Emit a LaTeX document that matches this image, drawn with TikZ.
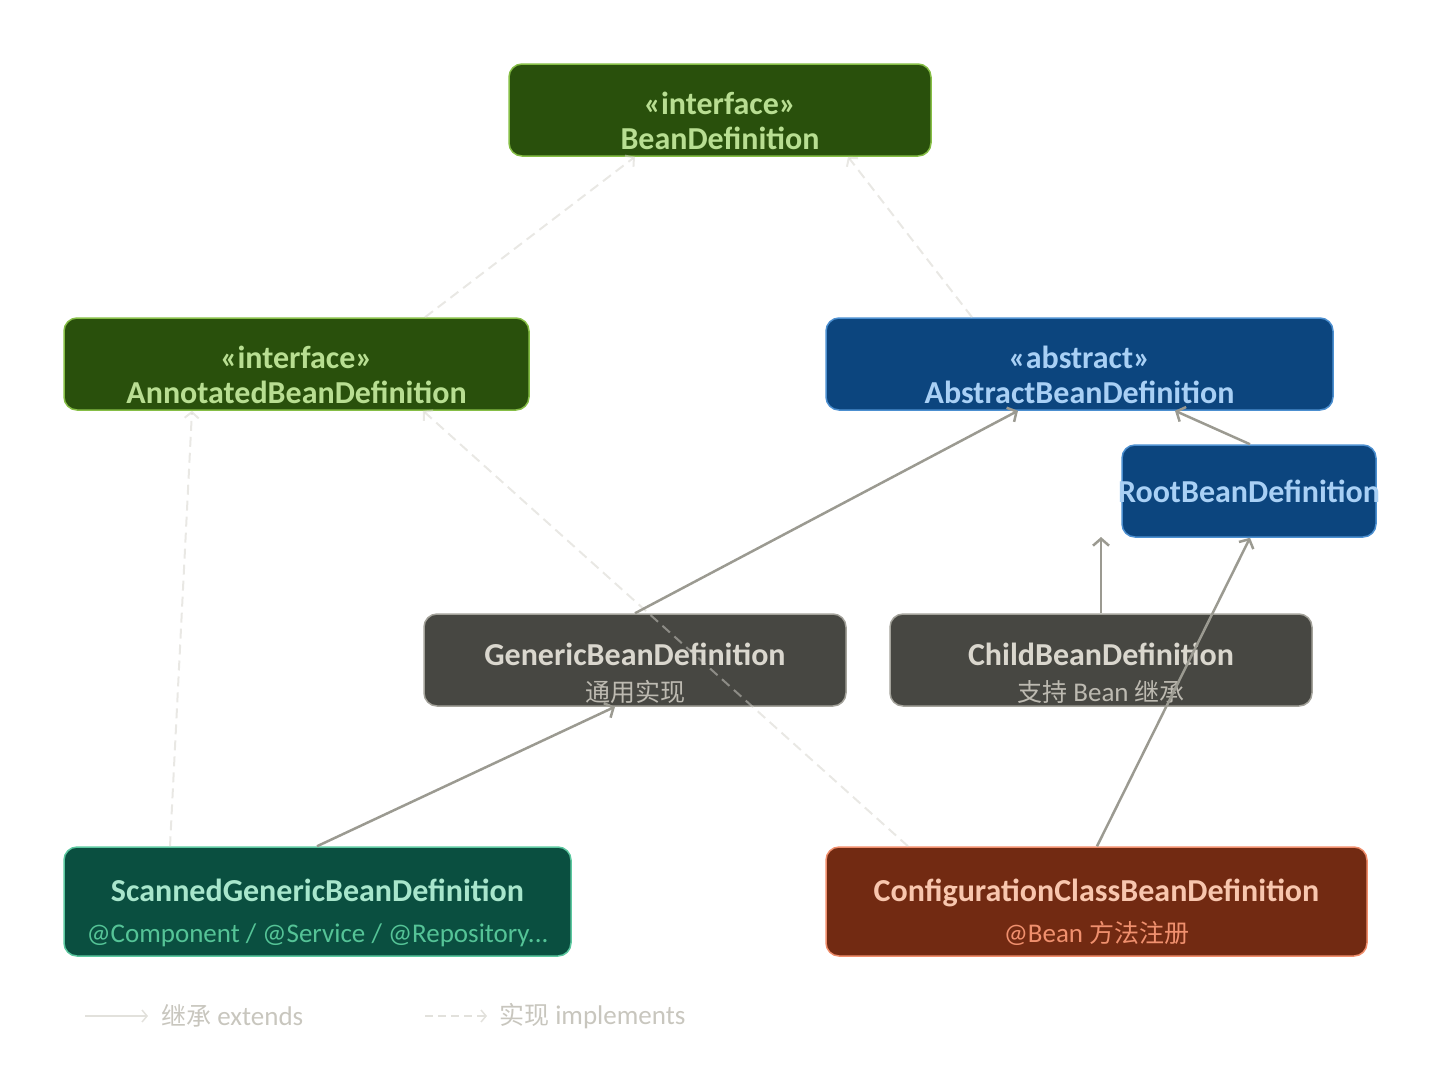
\documentclass[tikz,border=0pt]{standalone}
\usepackage{fontspec}
\setmainfont{Carlito}
\newfontfamily\cjk{Noto Sans CJK SC}
\usetikzlibrary{arrows.meta,positioning}
\definecolor{grfill}{HTML}{29500C}
\definecolor{grline}{HTML}{86BE46}
\definecolor{grtext}{HTML}{B8DE92}
\definecolor{blfill}{HTML}{0C457E}
\definecolor{blline}{HTML}{4C8FD0}
\definecolor{bltext}{HTML}{A9D0F5}
\definecolor{gyfill}{HTML}{474742}
\definecolor{gyline}{HTML}{A4A39B}
\definecolor{gytext}{HTML}{DAD7CE}
\definecolor{gysub}{HTML}{BDBAB1}
\definecolor{tlfill}{HTML}{0A4F40}
\definecolor{tlline}{HTML}{5CC8A0}
\definecolor{tltext}{HTML}{A8E6CC}
\definecolor{tlsub}{HTML}{55C497}
\definecolor{brfill}{HTML}{722A12}
\definecolor{brline}{HTML}{F08E6C}
\definecolor{brtext}{HTML}{F8C6AE}
\definecolor{brsub}{HTML}{F0906E}
\definecolor{extline}{HTML}{9B9A91}
\definecolor{impline}{HTML}{D3D1CA}
\definecolor{legline}{HTML}{E2E1DC}
\definecolor{legtext}{HTML}{C8C6BE}
\newcommand{\tfont}{\bfseries\fontsize{32}{34}\selectfont}
\newcommand{\sfont}{\mdseries\fontsize{27}{30}\selectfont}
\newcommand{\cfont}{\mdseries\fontsize{25}{30}\selectfont\cjk}
\tikzset{
  box/.style={rounded corners=13pt, line width=1.5pt, inner sep=0pt},
  green/.style={box, fill=grfill, draw=grline},
  blue/.style={box, fill=blfill, draw=blline},
  gray/.style={box, fill=gyfill, draw=gyline},
  teal/.style={box, fill=tlfill, draw=tlline},
  brown/.style={box, fill=brfill, draw=brline},
  lbl/.style={inner sep=0pt, align=center, font=\tfont},
  extends/.style={draw=extline, line width=2.5pt, -{Straight Barb[length=7pt,width=16pt]}},
  implements/.style={draw=impline, draw opacity=0.5, line width=2pt, dash pattern=on 10pt off 6pt, -{Straight Barb[length=6pt,width=14pt]}},
  legtxt/.style={anchor=west, inner sep=0pt, text=legtext, font=\sfont},
}
\begin{document}
\begin{tikzpicture}[x=1pt,y=-1pt]
\useasboundingbox (0,0) rectangle (1440,1066);
% boxes
\node[green, minimum width=422pt, minimum height=92pt] (bean) at (720,110) {};
\node[green, minimum width=465pt, minimum height=92pt] (ann) at (296.5,364) {};
\node[blue, minimum width=507pt, minimum height=92pt] (abs) at (1079.5,364) {};
\node[blue, minimum width=254pt, minimum height=92pt] (root) at (1249,491) {};
\node[gray, minimum width=422pt, minimum height=92pt] (gen) at (635,660) {};
\node[gray, minimum width=422pt, minimum height=92pt] (child) at (1101,660) {};
\node[teal, minimum width=507pt, minimum height=109pt] (scan) at (317.5,901.5) {};
\node[brown, minimum width=541pt, minimum height=109pt] (conf) at (1096.5,901.5) {};
% labels
\node[lbl, text=grtext] (beanlbl) at ([yshift=-11pt]bean.center) {«interface»\\[1pt]BeanDefinition};
\node[lbl, text=grtext] (annlbl) at ([yshift=-11pt]ann.center) {«interface»\\[1pt]AnnotatedBeanDefinition};
\node[lbl, text=bltext] (abslbl) at ([yshift=-11pt]abs.center) {«abstract»\\[1pt]AbstractBeanDefinition};
\node[lbl, text=bltext] (rootlbl) at (root.center) {RootBeanDefinition};
\node[lbl, text=gytext] (genlbl) at ([yshift=-13pt]gen.center) {GenericBeanDefinition\\[2pt]{\color{gysub}\cfont 通用实现}};
\node[lbl, text=gytext] (childlbl) at ([yshift=-13pt]child.center) {ChildBeanDefinition\\[2pt]{\color{gysub}\sfont{\cfont 支持} Bean {\cfont 继承}}};
\node[lbl, text=tltext] (scanlbl) at ([yshift=-11pt]scan.center) {ScannedGenericBeanDefinition\\[7pt]{\color{tlsub}\sfont @Component / @Service / @Repository...}};
\node[lbl, text=brtext] (conflbl) at ([yshift=-11pt]conf.center) {ConfigurationClassBeanDefinition\\[7pt]{\color{brsub}\sfont @Bean {\cfont 方法注册}}};
% implements
\draw[implements] ([xshift=128.5pt]ann.north) -- ([xshift=-85pt]bean.south);
\draw[implements] ([xshift=-107.5pt]abs.north) -- ([xshift=128pt]bean.south);
\draw[implements] ([xshift=-147.5pt]scan.north) -- ([xshift=-104.5pt]ann.south);
\draw[implements] ([xshift=-188.5pt]conf.north) -- ([xshift=126.5pt]ann.south);
% extends
\coordinate (childtip) at (1101,537);
\draw[extends] (gen.north) -- ([xshift=-61.5pt]abs.south);
\draw[extends] ([xshift=1pt]root.north) -- ([xshift=95.5pt]abs.south);
\draw[extends] (child.north) -- (childtip);
\draw[extends] ([xshift=-0.5pt]scan.north) -- ([xshift=-20pt]gen.south);
\draw[extends] ([xshift=0.5pt]conf.north) -- ([xshift=1pt]root.south);
% legend
\coordinate (l1a) at (85,1016);
\coordinate (l1b) at (148,1016);
\coordinate (l2a) at (425,1016);
\coordinate (l2b) at (487,1016);
\draw[draw=legline, line width=1.5pt, -{Straight Barb[length=5pt,width=12pt]}] (l1a) -- (l1b);
\draw[draw=legline, line width=1.5pt, dash pattern=on 8pt off 5pt, -{Straight Barb[length=5pt,width=12pt]}] (l2a) -- (l2b);
\node[legtxt] (leg1) at (161,1016) {{\cfont 继承} extends};
\node[legtxt] (leg2) at (499,1016) {{\cfont 实现} implements};
\end{tikzpicture}
\end{document}
